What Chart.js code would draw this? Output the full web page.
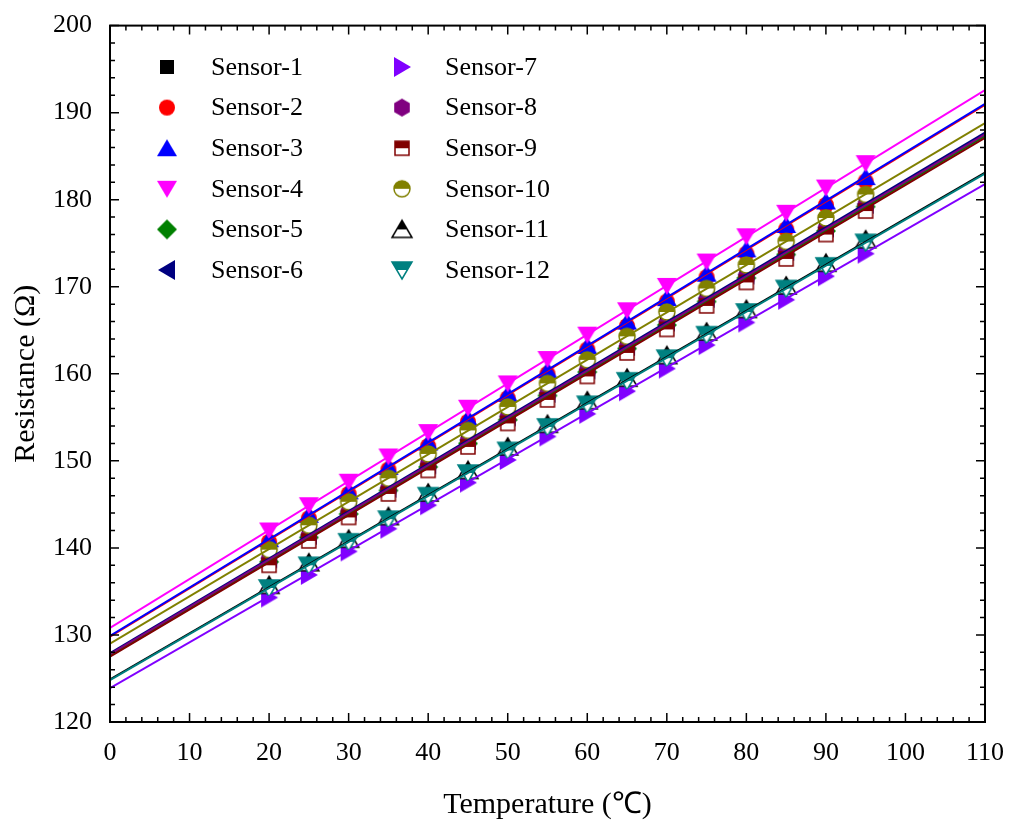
<!DOCTYPE html>
<html>
<head>
<meta charset="utf-8">
<script src="https://cdn.jsdelivr.net/npm/chart.js@4.4.1/dist/chart.umd.min.js"></script>
<style>
  body { margin: 0; background: #fff; }
  #wrap { width: 1014px; height: 831px; }
</style>
</head>
<body>
<div id="wrap"><canvas id="chart" width="1014" height="831"></canvas></div>
<script>
// temperatures of the measured points
const temps = [20, 25, 30, 35, 40, 45, 50, 55, 60, 65, 70, 75, 80, 85, 90, 95];

const sensorNames = ['Sensor-1', 'Sensor-2', 'Sensor-3', 'Sensor-4', 'Sensor-5', 'Sensor-6',
  'Sensor-7', 'Sensor-8', 'Sensor-9', 'Sensor-10', 'Sensor-11', 'Sensor-12'];

const sensor1 = [138.7, 141.4, 144.1, 146.8, 149.5, 152.2, 155.0, 157.7, 160.4, 163.1, 165.8, 168.5, 171.2, 173.9, 176.7, 179.4];
const sensor2 = [140.7, 143.4, 146.2, 149.0, 151.7, 154.5, 157.2, 160.0, 162.8, 165.5, 168.3, 171.1, 173.8, 176.6, 179.4, 182.1];
const sensor3 = [141.0, 143.8, 146.5, 149.3, 152.1, 154.9, 157.7, 160.4, 163.2, 166.0, 168.7, 171.5, 174.3, 177.1, 179.8, 182.6];
const sensor4 = [142.0, 144.9, 147.6, 150.5, 153.3, 156.1, 158.9, 161.7, 164.5, 167.3, 170.1, 172.9, 175.8, 178.5, 181.4, 184.2];
const sensor5 = [138.4, 141.2, 143.9, 146.6, 149.3, 152.0, 154.7, 157.5, 160.2, 162.9, 165.6, 168.3, 171.0, 173.7, 176.4, 179.2];
const sensor6 = [138.8, 141.5, 144.2, 146.9, 149.6, 152.4, 155.1, 157.8, 160.5, 163.2, 166.0, 168.7, 171.4, 174.1, 176.8, 179.5];
const sensor7 = [134.3, 136.9, 139.6, 142.2, 144.9, 147.5, 150.1, 152.8, 155.4, 158.0, 160.6, 163.3, 165.9, 168.5, 171.2, 173.8];
const sensor8 = [138.6, 141.3, 144.0, 146.7, 149.5, 152.2, 154.9, 157.6, 160.3, 163.0, 165.7, 168.4, 171.1, 173.9, 176.6, 179.3];
const sensor9 = [138.0, 140.8, 143.5, 146.2, 148.9, 151.6, 154.3, 157.0, 159.7, 162.4, 165.1, 167.8, 170.5, 173.2, 176.0, 178.7];
const sensor10 = [139.8, 142.6, 145.3, 148.0, 150.8, 153.5, 156.2, 158.9, 161.6, 164.3, 167.1, 169.8, 172.5, 175.2, 177.9, 180.6];
const sensor11 = [135.7, 138.3, 141.0, 143.6, 146.3, 148.9, 151.6, 154.2, 156.9, 159.5, 162.1, 164.8, 167.4, 170.1, 172.7, 175.4];
const sensor12 = [135.4, 138.0, 140.7, 143.3, 146.0, 148.6, 151.2, 153.9, 156.5, 159.2, 161.8, 164.5, 167.1, 169.8, 172.4, 175.1];
const sensorData = [sensor1, sensor2, sensor3, sensor4, sensor5, sensor6,
  sensor7, sensor8, sensor9, sensor10, sensor11, sensor12];

// linear fit lines, drawn from x = 0 to x = 110
const fitX = [0, 110];
const fitStart = [127.8, 129.8, 129.9, 130.8, 127.6, 127.9, 123.9, 127.8, 127.5, 129.0, 124.9, 124.8];
const fitEnd = [187.5, 190.9, 191.0, 192.6, 187.3, 187.7, 181.8, 187.5, 187.1, 188.8, 183.1, 183.0];

const colors = ['#000000', '#ff0000', '#0000ff', '#ff00ff', '#008000', '#000080',
  '#8000ff', '#800080', '#800000', '#808000', '#000000', '#008080'];
const shapes = ['square', 'circle', 'up', 'down', 'diamond', 'left',
  'right', 'hexagon', 'square', 'circle', 'up', 'down'];
const halfFilled = [false, false, false, false, false, false, false, false, true, true, true, true];

const SERIF = '"Liberation Serif", "Times New Roman", serif';

// small canvases used as point styles
function makeMarker(shape, color, half) {
  const size = 24, m = size / 2;
  const c = document.createElement('canvas');
  c.width = size; c.height = size;
  const g = c.getContext('2d');
  const path = () => {
    g.beginPath();
    if (shape === 'square') g.rect(m - 7, m - 7, 14, 14);
    else if (shape === 'circle') g.arc(m, m, 8, 0, Math.PI * 2);
    else if (shape === 'up') { g.moveTo(m, m - 9); g.lineTo(m + 10, m + 8); g.lineTo(m - 10, m + 8); }
    else if (shape === 'down') { g.moveTo(m, m + 9); g.lineTo(m + 10, m - 8); g.lineTo(m - 10, m - 8); }
    else if (shape === 'left') { g.moveTo(m - 9, m); g.lineTo(m + 8, m - 10); g.lineTo(m + 8, m + 10); }
    else if (shape === 'right') { g.moveTo(m + 9, m); g.lineTo(m - 8, m - 10); g.lineTo(m - 8, m + 10); }
    else if (shape === 'diamond') { g.moveTo(m, m - 10); g.lineTo(m + 10, m); g.lineTo(m, m + 10); g.lineTo(m - 10, m); }
    else if (shape === 'hexagon') {
      for (let k = 0; k < 6; k++) {
        const a = -Math.PI / 2 + k * Math.PI / 3;
        const px = m + 9 * Math.cos(a), py = m + 9 * Math.sin(a);
        if (k === 0) g.moveTo(px, py); else g.lineTo(px, py);
      }
    }
    g.closePath();
  };
  if (half) {
    path();
    g.fillStyle = '#fff';
    g.fill();
    g.save();
    g.beginPath();
    g.rect(0, 0, size, m);
    g.clip();
    path();
    g.fillStyle = color;
    g.fill();
    g.restore();
    path();
    g.strokeStyle = color;
    g.lineWidth = 1.5;
    g.stroke();
  } else {
    path();
    g.fillStyle = color;
    g.fill();
  }
  return c;
}

const markers = shapes.map((s, i) => makeMarker(s, colors[i], halfFilled[i]));

const datasets = [];
sensorNames.forEach((name, i) => {
  datasets.push({
    label: name,
    data: temps.map((t, j) => ({ x: t, y: sensorData[i][j] })),
    pointStyle: markers[i],
    showLine: false,
    order: 40 - i
  });
});
sensorNames.forEach((name, i) => {
  datasets.push({
    label: name + ' fit',
    data: [{ x: fitX[0], y: fitStart[i] }, { x: fitX[1], y: fitEnd[i] }],
    showLine: true,
    borderColor: colors[i],
    borderWidth: 2,
    pointRadius: 0,
    order: 20 - i
  });
});

// frame with inward ticks on all four sides
const framePlugin = {
  id: 'frame',
  afterDraw(chart) {
    const { ctx, chartArea: a, scales } = chart;
    ctx.save();
    ctx.strokeStyle = '#000';
    ctx.lineWidth = 2;
    ctx.strokeRect(a.left, a.top, a.right - a.left, a.bottom - a.top);
    ctx.lineWidth = 1.5;
    ctx.beginPath();
    scales.x.ticks.forEach(t => {
      const px = scales.x.getPixelForValue(t.value);
      const len = t.value % 10 === 0 ? 9 : 5;
      ctx.moveTo(px, a.bottom); ctx.lineTo(px, a.bottom - len);
      ctx.moveTo(px, a.top); ctx.lineTo(px, a.top + len);
    });
    scales.y.ticks.forEach(t => {
      const py = scales.y.getPixelForValue(t.value);
      const len = t.value % 10 === 0 ? 9 : 5;
      ctx.moveTo(a.left, py); ctx.lineTo(a.left + len, py);
      ctx.moveTo(a.right, py); ctx.lineTo(a.right - len, py);
    });
    ctx.stroke();
    ctx.restore();
  }
};

// two-column legend inside the plot
const legendPlugin = {
  id: 'innerLegend',
  afterDraw(chart) {
    const ctx = chart.ctx;
    ctx.save();
    ctx.font = '26px ' + SERIF;
    ctx.fillStyle = '#000';
    ctx.textBaseline = 'middle';
    sensorNames.forEach((name, i) => {
      const col = Math.floor(i / 6), row = i % 6;
      const mx = col === 0 ? 167 : 402;
      const tx = col === 0 ? 211 : 445;
      const y = 67 + row * 40.6;
      const mk = markers[i];
      ctx.drawImage(mk, mx - mk.width / 2, y - mk.height / 2);
      ctx.fillText(name, tx, y + 1);
    });
    ctx.restore();
  }
};

new Chart(document.getElementById('chart'), {
  type: 'scatter',
  data: { datasets },
  options: {
    responsive: false,
    animation: false,
    devicePixelRatio: 1,
    layout: { padding: { top: 20, right: 29, left: 0, bottom: 0 } },
    plugins: { legend: { display: false }, tooltip: { enabled: false } },
    scales: {
      x: {
        type: 'linear', min: 0, max: 110,
        afterFit: s => { s.height = 109; },
        grid: { display: false },
        border: { display: false },
        ticks: {
          stepSize: 2, autoSkip: false, maxRotation: 0, padding: 8,
          color: '#000', font: { family: SERIF, size: 26 },
          callback: v => (v % 10 === 0 ? v : '')
        },
        title: {
          display: true, text: 'Temperature (℃)', color: '#000',
          font: { family: SERIF, size: 30 }, padding: { top: 0, bottom: 8 }
        }
      },
      y: {
        type: 'linear', min: 120, max: 200,
        afterFit: s => { s.width = 110; },
        grid: { display: false },
        border: { display: false },
        ticks: {
          stepSize: 2, autoSkip: false, padding: 10,
          color: '#000', font: { family: SERIF, size: 26 },
          callback: v => (v % 10 === 0 ? v : '')
        },
        title: {
          display: true, text: 'Resistance (Ω)', color: '#000',
          font: { family: SERIF, size: 30 }, padding: { top: 8, bottom: 0 }
        }
      }
    }
  },
  plugins: [framePlugin, legendPlugin]
});
</script>
</body>
</html>
